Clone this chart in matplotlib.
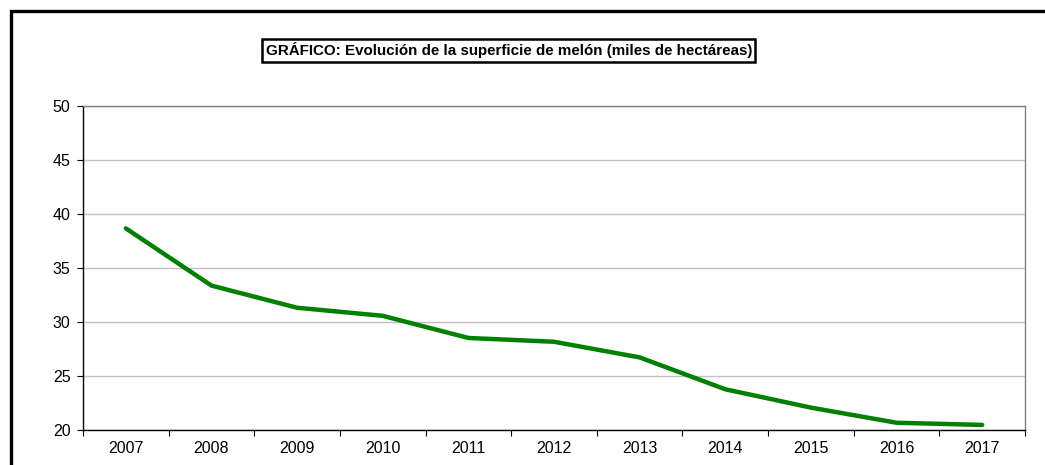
import matplotlib
matplotlib.use("Agg")
import matplotlib.pyplot as plt
from matplotlib.patches import Rectangle
import numpy as np

plt.rcParams['font.family'] = ['Liberation Sans', 'DejaVu Sans']

years = ['2007', '2008', '2009', '2010', '2011', '2012', '2013', '2014', '2015', '2016', '2017']
superficie = [38.7, 33.4, 31.35, 30.6, 28.55, 28.2, 26.75, 23.8, 22.1, 20.7, 20.5]
y_ticks = [20, 25, 30, 35, 40, 45, 50]

fig = plt.figure(figsize=(10.45, 4.65), dpi=100)
ax = fig.add_axes([0.0794, 0.0746, 0.9015, 0.6968])

x = np.arange(len(years))
ax.plot(x, superficie, color='#008000', linewidth=3.2, solid_capstyle='round', zorder=3)

ax.set_xlim(-0.5, len(years) - 0.5)
ax.set_ylim(20, 50)
ax.set_yticks(y_ticks)
ax.yaxis.grid(True, color='#c0c0c0', linewidth=1)
ax.set_axisbelow(True)

# category ticks between years, labels centred on each year
ax.set_xticks(np.arange(-0.5, len(years), 1.0))
ax.set_xticklabels([])
ax.set_xticks(x, minor=True)
ax.set_xticklabels(years, minor=True)
ax.tick_params(axis='x', which='major', length=4, direction='out', color='black')
ax.tick_params(axis='x', which='minor', length=0, pad=8, labelsize=11.5)
ax.tick_params(axis='y', length=4, direction='out', color='black', labelsize=11.5, pad=5)

for s in ['top', 'right']:
    ax.spines[s].set_color('#808080')
    ax.spines[s].set_linewidth(1)
for s in ['left', 'bottom']:
    ax.spines[s].set_color('black')
    ax.spines[s].set_linewidth(1)

fig.text(0.487, 0.892, 'GRÁFICO: Evolución de la superficie de melón (miles de hectáreas)',
         ha='center', va='center', fontsize=10.9, fontweight='bold',
         bbox=dict(boxstyle='square,pad=0.22', facecolor='white', edgecolor='black', linewidth=1.8))

# outer chart frame
fig.patches.append(Rectangle((10.5 / 1045, -0.1), 1.2, 1.1 - 11 / 465, transform=fig.transFigure,
                             fill=False, edgecolor='black', linewidth=2.4))

fig.savefig('out.png', dpi=100)
